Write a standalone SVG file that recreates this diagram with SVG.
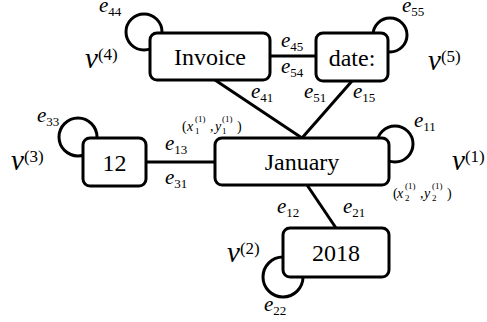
<svg xmlns="http://www.w3.org/2000/svg" width="487" height="322" viewBox="0 0 487 322">
<style>
.box{fill:#fff;stroke:#000;stroke-width:3}
.edge{stroke:#000;stroke-width:3;fill:none}
.loop{stroke:#000;stroke-width:3;fill:none}
text{font-family:"Liberation Serif","Times New Roman",Tinos,"Noto Serif","DejaVu Serif",FreeSerif,Times,serif;fill:#000}
.lbl{font-size:24px;text-anchor:middle}
.m{font-style:italic;font-size:21px}
.s{font-style:normal;font-size:13px}
.v{font-style:italic;font-size:29px}
.vs{font-style:normal;font-size:17px}
.c{font-style:italic;font-size:14px}
.cs{font-style:normal;font-size:9px}
.n{font-style:normal}
</style>
<rect width="487" height="322" fill="#fff"/>
<g id="connectors">
<line class="edge" x1="270" y1="56" x2="316" y2="56"/>
<line class="edge" x1="146" y1="162" x2="215" y2="162"/>
<line class="edge" x1="215" y1="80" x2="302" y2="138"/>
<line class="edge" x1="352" y1="81" x2="302" y2="138"/>
<line class="edge" x1="307" y1="185" x2="336" y2="228"/>
<circle class="loop" cx="144" cy="32" r="18"/>
<circle class="loop" cx="390" cy="35" r="17"/>
<circle class="loop" cx="395" cy="144" r="18"/>
<circle class="loop" cx="78" cy="137" r="19"/>
<circle class="loop" cx="283" cy="277" r="20"/>
<text class="m" x="99" y="12">e<tspan class="s" dy="4">44</tspan></text>
<text class="m" x="402" y="12">e<tspan class="s" dy="4">55</tspan></text>
<text class="m" x="281" y="47">e<tspan class="s" dy="4">45</tspan></text>
<text class="m" x="281" y="73">e<tspan class="s" dy="4">54</tspan></text>
<text class="m" x="251" y="98">e<tspan class="s" dy="4">41</tspan></text>
<text class="m" x="304" y="98">e<tspan class="s" dy="4">51</tspan></text>
<text class="m" x="353" y="98">e<tspan class="s" dy="4">15</tspan></text>
<text class="m" x="414" y="127">e<tspan class="s" dy="4">11</tspan></text>
<text class="m" x="37" y="122">e<tspan class="s" dy="4">33</tspan></text>
<text class="m" x="165" y="150">e<tspan class="s" dy="4">13</tspan></text>
<text class="m" x="165" y="184">e<tspan class="s" dy="4">31</tspan></text>
<text class="m" x="277" y="213">e<tspan class="s" dy="4">12</tspan></text>
<text class="m" x="343" y="213">e<tspan class="s" dy="4">21</tspan></text>
<text class="m" x="264" y="311">e<tspan class="s" dy="4">22</tspan></text>
<text class="c" y="131"><tspan x="182" class="n">(</tspan><tspan x="187">x</tspan><tspan class="cs" x="195" y="134">1</tspan><tspan class="cs" x="195" y="122">(1)</tspan><tspan x="210" y="131" class="n">,</tspan><tspan x="215">y</tspan><tspan class="cs" x="222" y="134">1</tspan><tspan class="cs" x="222" y="122">(1)</tspan><tspan x="237" y="131" class="n">)</tspan></text>
<text class="c" y="198"><tspan x="393" class="n">(</tspan><tspan x="397">x</tspan><tspan class="cs" x="405" y="201">2</tspan><tspan class="cs" x="405" y="189">(1)</tspan><tspan x="420" y="198" class="n">,</tspan><tspan x="424">y</tspan><tspan class="cs" x="432" y="201">2</tspan><tspan class="cs" x="432" y="189">(1)</tspan><tspan x="447" y="198" class="n">)</tspan></text>
<text class="v" x="85" y="68">v<tspan class="vs" dy="-8">(4)</tspan></text>
<text class="v" x="428" y="70">v<tspan class="vs" dy="-8">(5)</tspan></text>
<text class="v" x="452" y="170">v<tspan class="vs" dy="-8">(1)</tspan></text>
<text class="v" x="11" y="170">v<tspan class="vs" dy="-8">(3)</tspan></text>
<text class="v" x="227" y="262">v<tspan class="vs" dy="-8">(2)</tspan></text>
</g>
<g id="invoice"><rect class="box" x="150" y="33" width="120" height="47" rx="7"/><text class="lbl" x="210" y="65">Invoice</text></g>
<g id="date"><rect class="box" x="316" y="33" width="72" height="48" rx="7"/><text class="lbl" x="352" y="66">date:</text></g>
<g id="january"><rect class="box" x="215" y="138" width="174" height="47" rx="7"/><text class="lbl" x="302" y="170">January</text></g>
<g id="twelve"><rect class="box" x="83" y="138" width="63" height="48" rx="7"/><text class="lbl" x="114.5" y="171">12</text></g>
<g id="y2018"><rect class="box" x="283" y="228" width="106" height="49" rx="7"/><text class="lbl" x="336" y="261">2018</text></g>
</svg>
